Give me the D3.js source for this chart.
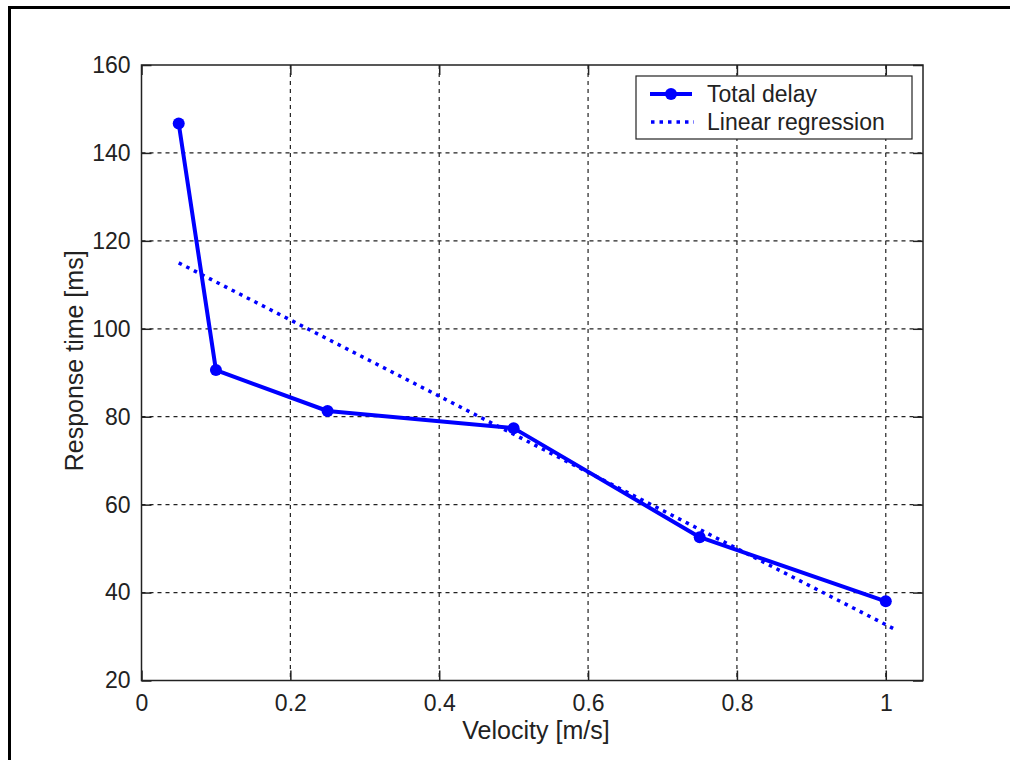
<!DOCTYPE html>
<html>
<head>
<meta charset="utf-8">
<script src="https://cdn.jsdelivr.net/npm/d3@7"></script>
<style>
  body { margin: 0; background: #fff; overflow: hidden; }
  svg { display: block; }
  svg text { font-family: "Liberation Sans", Arial, sans-serif; fill: #222; }
</style>
</head>
<body>
<div id="chart"></div>
<script>
var velocity = [0.05, 0.1, 0.25, 0.5, 0.75, 1.0];
var totalDelay = [146.7, 90.6, 81.3, 77.4, 52.6, 38.0];
var regVelocity = [0.05, 1.015];
var regDelay = [115.0, 31.4];
var xTicks = [0, 0.2, 0.4, 0.6, 0.8, 1];
var yTicks = [20, 40, 60, 80, 100, 120, 140, 160];
var seriesNames = ["Total delay", "Linear regression"];

var W = 1010, H = 760;
var pLeft = 141.5, pRight = 923, pTop = 65, pBottom = 680.5;
var blue = "#0000ff";
var fs = 23;

var svg = d3.select("#chart").append("svg")
    .attr("width", W).attr("height", H);

// figure frame: only the top and left edges show
svg.append("path")
    .attr("d", "M9.5," + H + "V7.5H" + W)
    .attr("fill", "none").attr("stroke", "#000").attr("stroke-width", 3);

var x = d3.scaleLinear().domain([0, 1.05]).range([pLeft, pRight]);
var y = d3.scaleLinear().domain([20, 160]).range([pBottom, pTop]);

var g = svg.append("g");

// grid
g.selectAll(".gx").data(xTicks.slice(1)).enter().append("line")
    .attr("x1", function(d) { return x(d); }).attr("x2", function(d) { return x(d); })
    .attr("y1", pTop).attr("y2", pBottom)
    .attr("stroke", "#222").attr("stroke-width", 1.2).attr("stroke-dasharray", "4,4");
g.selectAll(".gy").data(yTicks.slice(1, -1)).enter().append("line")
    .attr("y1", function(d) { return y(d); }).attr("y2", function(d) { return y(d); })
    .attr("x1", pLeft).attr("x2", pRight)
    .attr("stroke", "#222").attr("stroke-width", 1.2).attr("stroke-dasharray", "4,4");

// axes (ticks inside, on all four sides)
var tl = 10;
var axB = d3.axisBottom(x).tickValues(xTicks).tickSize(-tl).tickPadding(14)
    .tickFormat(d3.format("~g"));
var axT = d3.axisTop(x).tickValues(xTicks).tickSize(-tl).tickFormat("");
var axL = d3.axisLeft(y).tickValues(yTicks).tickSize(-tl).tickPadding(11);
var axR = d3.axisRight(y).tickValues(yTicks).tickSize(-tl).tickFormat("");

function styleAxis(sel) {
    sel.select(".domain").remove();
    sel.selectAll(".tick line").attr("stroke", "#222").attr("stroke-width", 1.5);
    sel.selectAll(".tick text").attr("font-size", fs).attr("fill", "#222")
        .attr("font-family", "Liberation Sans, Arial, sans-serif");
}
svg.append("g").attr("transform", "translate(0," + pBottom + ")").call(axB).call(styleAxis);
svg.append("g").attr("transform", "translate(0," + pTop + ")").call(axT).call(styleAxis);
svg.append("g").attr("transform", "translate(" + pLeft + ",0)").call(axL).call(styleAxis);
svg.append("g").attr("transform", "translate(" + pRight + ",0)").call(axR).call(styleAxis);

svg.append("rect")
    .attr("x", pLeft).attr("y", pTop)
    .attr("width", pRight - pLeft).attr("height", pBottom - pTop)
    .attr("fill", "none").attr("stroke", "#222").attr("stroke-width", 1.5);

// regression line
var reg = regVelocity.map(function(v, i) { return [v, regDelay[i]]; });
svg.append("path").datum(reg)
    .attr("d", d3.line().x(function(d) { return x(d[0]); }).y(function(d) { return y(d[1]); }))
    .attr("fill", "none").attr("stroke", blue).attr("stroke-width", 3.5)
    .attr("stroke-dasharray", "3.5,5");

// total delay
var pts = velocity.map(function(v, i) { return [v, totalDelay[i]]; });
svg.append("path").datum(pts)
    .attr("d", d3.line().x(function(d) { return x(d[0]); }).y(function(d) { return y(d[1]); }))
    .attr("fill", "none").attr("stroke", blue).attr("stroke-width", 4)
    .attr("stroke-linejoin", "round");
svg.selectAll(".pt").data(pts).enter().append("circle")
    .attr("cx", function(d) { return x(d[0]); })
    .attr("cy", function(d) { return y(d[1]); })
    .attr("r", 6).attr("fill", blue);

// axis titles
svg.append("text").attr("x", x(0.53)).attr("y", 739)
    .attr("text-anchor", "middle").attr("font-size", 25).text("Velocity [m/s]");
svg.append("text").attr("transform", "translate(83," + y(92.7) + ") rotate(-90)")
    .attr("text-anchor", "middle").attr("font-size", 25).text("Response time [ms]");

// legend
var lg = svg.append("g").attr("transform", "translate(636,76)");
lg.append("rect").attr("width", 276).attr("height", 63)
    .attr("fill", "#fff").attr("stroke", "#222").attr("stroke-width", 1.2);
lg.append("line").attr("x1", 14).attr("x2", 56).attr("y1", 18).attr("y2", 18)
    .attr("stroke", blue).attr("stroke-width", 4);
lg.append("circle").attr("cx", 35).attr("cy", 18).attr("r", 6).attr("fill", blue);
lg.append("line").attr("x1", 15).attr("x2", 58).attr("y1", 46).attr("y2", 46)
    .attr("stroke", blue).attr("stroke-width", 3.5).attr("stroke-dasharray", "3.5,5");
lg.selectAll(".lt").data(seriesNames).enter().append("text")
    .attr("x", 71).attr("y", function(d, i) { return 18 + i * 28; })
    .attr("dy", "0.36em").attr("font-size", fs).text(function(d) { return d; });
</script>
</body>
</html>
